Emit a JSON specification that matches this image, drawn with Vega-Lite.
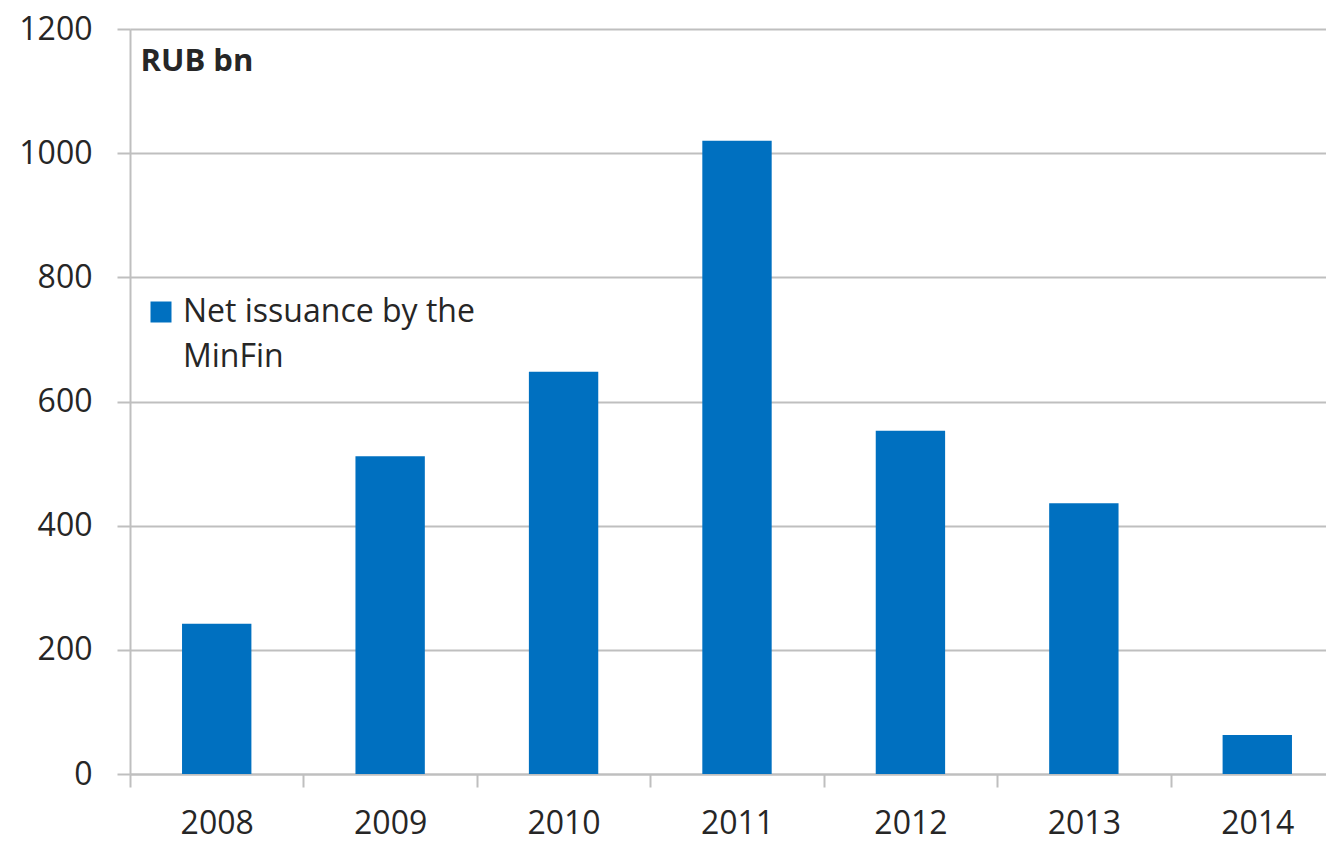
{
  "$schema": "https://vega.github.io/schema/vega-lite/v6.json",
  "width": 1196,
  "height": 745,
  "autosize": {"type": "none"},
  "padding": {"left": 130, "top": 29, "right": 0, "bottom": 68},
  "background": "white",
  "data": {
    "values": [
      {"year": "2008", "value": 242, "series": "Net issuance by the MinFin"},
      {"year": "2009", "value": 512, "series": "Net issuance by the MinFin"},
      {"year": "2010", "value": 648, "series": "Net issuance by the MinFin"},
      {"year": "2011", "value": 1020, "series": "Net issuance by the MinFin"},
      {"year": "2012", "value": 553, "series": "Net issuance by the MinFin"},
      {"year": "2013", "value": 436, "series": "Net issuance by the MinFin"},
      {"year": "2014", "value": 63, "series": "Net issuance by the MinFin"}
    ]
  },
  "mark": {"type": "bar", "width": {"band": 0.4}},
  "encoding": {
    "x": {
      "field": "year",
      "type": "ordinal",
      "scale": {"range": [0, 1214], "paddingInner": 0, "paddingOuter": 0},
      "axis": {
        "title": null,
        "labelAngle": 0,
        "tickBand": "extent",
        "tickSize": 13,
        "tickColor": "#bfbfbf",
        "tickWidth": 2,
        "domainColor": "#bfbfbf",
        "domainWidth": 2,
        "labelFont": "Open Sans",
        "labelFontSize": 32,
        "labelColor": "#262626",
        "labelPadding": 21
      }
    },
    "y": {
      "field": "value",
      "type": "quantitative",
      "scale": {"domain": [0, 1200], "nice": false},
      "axis": {
        "values": [0, 200, 400, 600, 800, 1000, 1200],
        "format": "d",
        "title": "RUB bn",
        "titleAngle": 0,
        "titleAlign": "left",
        "titleBaseline": "top",
        "titleX": 10,
        "titleY": 17,
        "titleFont": "Open Sans",
        "titleFontSize": 31,
        "titleFontWeight": "bold",
        "titleColor": "#262626",
        "tickSize": 13,
        "tickColor": "#bfbfbf",
        "tickWidth": 2,
        "domainColor": "#bfbfbf",
        "domainWidth": 2,
        "gridColor": "#bfbfbf",
        "gridWidth": 2,
        "labelFont": "Open Sans",
        "labelFontSize": 32,
        "labelColor": "#262626",
        "labelPadding": 25
      }
    },
    "color": {
      "field": "series",
      "type": "nominal",
      "scale": {"range": ["#0070C0"]},
      "legend": {
        "title": null,
        "orient": "none",
        "legendX": 15,
        "legendY": 267,
        "padding": 0,
        "symbolType": "square",
        "symbolSize": 441,
        "symbolStrokeWidth": 0,
        "labelFont": "Open Sans",
        "labelFontSize": 32,
        "labelColor": "#262626",
        "labelOffset": 6,
        "labelLimit": 600,
        "labelExpr": "['Net issuance by the', 'MinFin']",
        "labelBaseline": "top",
        "encode": {"labels": {"update": {"lineHeight": {"value": 45}, "dy": {"value": -15}}}}
      }
    }
  },
  "config": {"view": {"stroke": null}}
}
